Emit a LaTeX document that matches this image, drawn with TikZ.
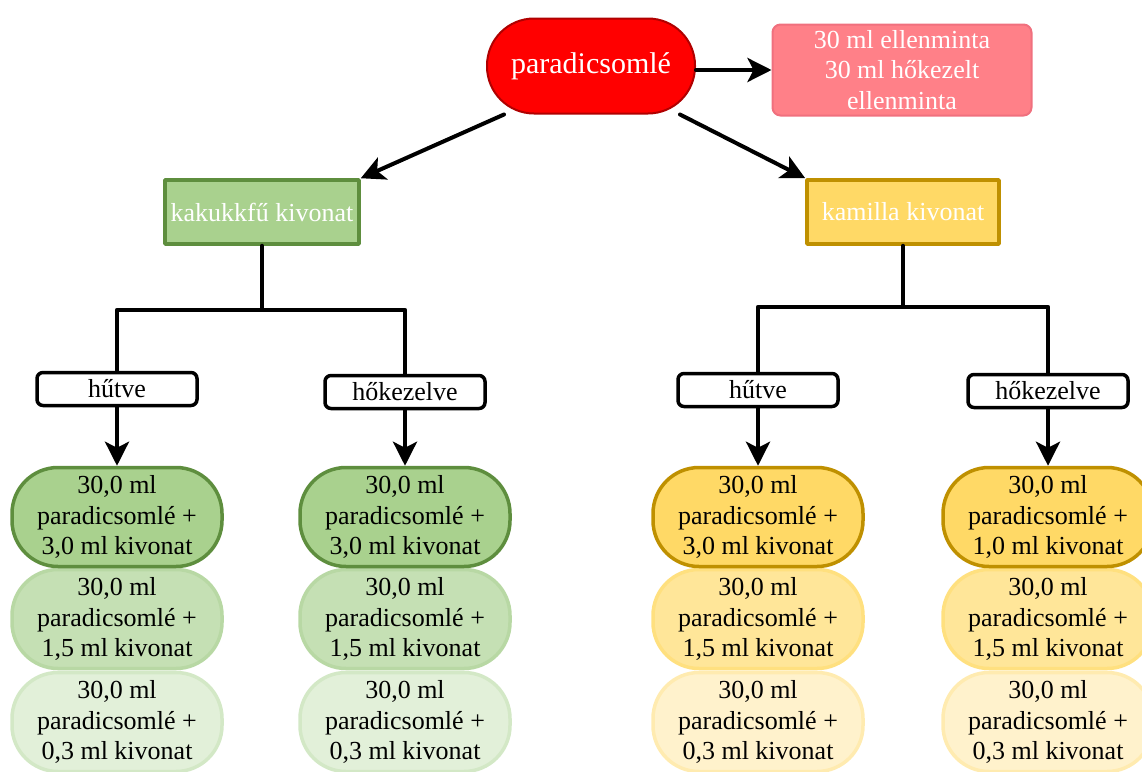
\documentclass[tikz,border=0pt]{standalone}
\usepackage{fontspec}
\setmainfont{Liberation Serif}
\usetikzlibrary{arrows.meta}
\definecolor{levred}{HTML}{FF0000}
\definecolor{levborder}{HTML}{B00000}
\definecolor{ctrlpink}{HTML}{FF8088}
\definecolor{ctrlborder}{HTML}{F0707E}
\definecolor{kakgreen}{HTML}{A9D18E}
\definecolor{kakborder}{HTML}{5E8E3E}
\definecolor{kamgold}{HTML}{FFD966}
\definecolor{kamborder}{HTML}{BF9000}
\definecolor{greenmid}{HTML}{C5E0B4}
\definecolor{greenmidb}{HTML}{B8D8A4}
\definecolor{greenlow}{HTML}{E2F0D9}
\definecolor{greenlowb}{HTML}{D3E8C6}
\definecolor{goldmid}{HTML}{FFE699}
\definecolor{goldmidb}{HTML}{FFE07F}
\definecolor{goldlow}{HTML}{FFF2CC}
\definecolor{goldlowb}{HTML}{FFEBB0}
\begin{document}
\begin{tikzpicture}[line cap=round,line join=round,x=1pt,y=-1pt,
  >={Stealth[length=24pt,width=24pt,inset=6pt]},
  every node/.style={font=\fontsize{26}{30.5}\selectfont,align=center,inner sep=0pt},
  flow/.style={line width=4pt,->},
  tree/.style={line width=4pt},
  startnode/.style={draw=levborder,fill=levred,line width=2pt,text=white,minimum width=208pt,minimum height=95pt,rounded corners=47pt,font=\fontsize{30}{34}\selectfont},
  ctrlbox/.style={draw=ctrlborder,fill=ctrlpink,line width=2pt,text=white,minimum width=259pt,minimum height=91pt,rounded corners=8pt},
  kakbox/.style={draw=kakborder,fill=kakgreen,line width=3.5pt,text=white,minimum width=194pt,minimum height=64pt},
  kambox/.style={draw=kamborder,fill=kamgold,line width=3.5pt,text=white,minimum width=192pt,minimum height=64pt},
  treatbox/.style={draw=black,fill=white,line width=3.5pt,minimum width=160pt,minimum height=33pt,rounded corners=6pt},
  sample/.style={line width=3.5pt,minimum width=210pt,minimum height=99pt,rounded corners=46pt,text=black},
  gtop/.style={sample,draw=kakborder,fill=kakgreen},
  gmid/.style={sample,draw=greenmidb,fill=greenmid},
  glow/.style={sample,draw=greenlowb,fill=greenlow},
  ytop/.style={sample,draw=kamborder,fill=kamgold},
  ymid/.style={sample,draw=goldmidb,fill=goldmid},
  ylow/.style={sample,draw=goldlowb,fill=goldlow}]
\useasboundingbox (0,0) rectangle (1142,771);
\node[startnode] (lev) at (591,66) {paradicsomlé};
\node[ctrlbox] (ell) at (902,70) {30 ml ellenminta\\30 ml hőkezelt\\ellenminta};
\node[kakbox] (kak) at (262,212) {kakukkfű kivonat};
\node[kambox] (kam) at (903,212) {kamilla kivonat};
\node[treatbox] (khut) at (117,389) {hűtve};
\node[treatbox] (khok) at (405,392) {hőkezelve};
\node[treatbox] (mhut) at (758,390) {hűtve};
\node[treatbox] (mhok) at (1048,391) {hőkezelve};
\node[glow] (khut3) at (117,722) {30,0 ml\\paradicsomlé +\\0,3 ml kivonat};
\node[gmid] (khut2) at (117,619) {30,0 ml\\paradicsomlé +\\1,5 ml kivonat};
\node[gtop] (khut1) at (117,517) {30,0 ml\\paradicsomlé +\\3,0 ml kivonat};
\node[glow] (khok3) at (405,722) {30,0 ml\\paradicsomlé +\\0,3 ml kivonat};
\node[gmid] (khok2) at (405,619) {30,0 ml\\paradicsomlé +\\1,5 ml kivonat};
\node[gtop] (khok1) at (405,517) {30,0 ml\\paradicsomlé +\\3,0 ml kivonat};
\node[ylow] (mhut3) at (758,722) {30,0 ml\\paradicsomlé +\\0,3 ml kivonat};
\node[ymid] (mhut2) at (758,619) {30,0 ml\\paradicsomlé +\\1,5 ml kivonat};
\node[ytop] (mhut1) at (758,517) {30,0 ml\\paradicsomlé +\\3,0 ml kivonat};
\node[ylow] (mhok3) at (1048,722) {30,0 ml\\paradicsomlé +\\0,3 ml kivonat};
\node[ymid] (mhok2) at (1048,619) {30,0 ml\\paradicsomlé +\\1,5 ml kivonat};
\node[ytop] (mhok1) at (1048,517) {30,0 ml\\paradicsomlé +\\1,0 ml kivonat};
\draw[flow] (ell.west -| lev.east) -- (ell.west);
\draw[flow] ([xshift=18pt]lev.south west) -- (kak.north east);
\draw[flow] ([xshift=-16pt]lev.south east) -- (kam.north west);
\draw[tree] (kak.south) -- ++(0,64) coordinate (kakj);
\draw[tree] (kakj) -| (khut.north);
\draw[tree] (kakj) -| (khok.north);
\draw[tree] (kam.south) -- ++(0,61) coordinate (kamj);
\draw[tree] (kamj) -| (mhut.north);
\draw[tree] (kamj) -| (mhok.north);
\draw[flow] (khut.south) -- (khut1.north);
\draw[flow] (khok.south) -- (khok1.north);
\draw[flow] (mhut.south) -- (mhut1.north);
\draw[flow] (mhok.south) -- (mhok1.north);
\end{tikzpicture}
\end{document}
